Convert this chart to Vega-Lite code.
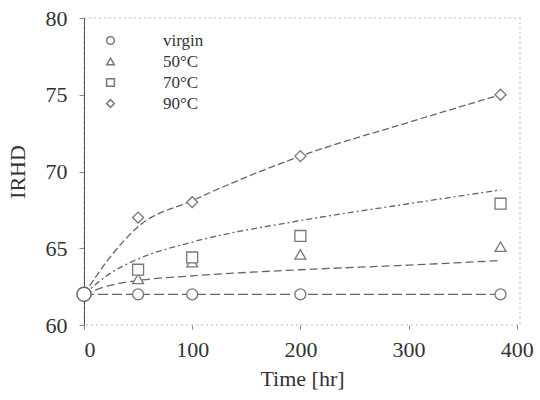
{
  "$schema": "https://vega.github.io/schema/vega-lite/v6.json",
  "autosize": "none",
  "width": 436,
  "height": 307,
  "padding": {"left": 84, "top": 18, "right": 20, "bottom": 75},
  "background": "white",
  "config": {
    "font": "Liberation Serif",
    "view": {"stroke": "#cfcfcf", "strokeWidth": 1.5, "strokeDash": [2, 3]},
    "axis": {"grid": false, "labelFont": "Liberation Serif", "titleFont": "Liberation Serif", "labelColor": "#333", "titleColor": "#333", "domainColor": "#555", "tickColor": "#888", "labelFontSize": 22, "titleFontSize": 22, "titleFontWeight": "normal"}
  },
  "datasets": {
    "obs": [
      {"series": "virgin", "time": 0, "irhd": 62},
      {"series": "virgin", "time": 50, "irhd": 62},
      {"series": "virgin", "time": 100, "irhd": 62},
      {"series": "virgin", "time": 200, "irhd": 62},
      {"series": "virgin", "time": 385, "irhd": 62},
      {"series": "50°C", "time": 50, "irhd": 63.0},
      {"series": "50°C", "time": 100, "irhd": 64.1},
      {"series": "50°C", "time": 200, "irhd": 64.6},
      {"series": "50°C", "time": 385, "irhd": 65.1},
      {"series": "70°C", "time": 50, "irhd": 63.6},
      {"series": "70°C", "time": 100, "irhd": 64.4},
      {"series": "70°C", "time": 200, "irhd": 65.8},
      {"series": "70°C", "time": 385, "irhd": 67.9},
      {"series": "90°C", "time": 50, "irhd": 67.0},
      {"series": "90°C", "time": 100, "irhd": 68.0},
      {"series": "90°C", "time": 200, "irhd": 71.0},
      {"series": "90°C", "time": 385, "irhd": 75.0}
    ],
    "fit": [
      {"curve": "virgin", "time": 0, "irhd": 62},
      {"curve": "virgin", "time": 385, "irhd": 62},
      {"curve": "50°C", "time": 0, "irhd": 62},
      {"curve": "50°C", "time": 25, "irhd": 62.6},
      {"curve": "50°C", "time": 50, "irhd": 62.9},
      {"curve": "50°C", "time": 100, "irhd": 63.2},
      {"curve": "50°C", "time": 200, "irhd": 63.6},
      {"curve": "50°C", "time": 300, "irhd": 63.9},
      {"curve": "50°C", "time": 385, "irhd": 64.2},
      {"curve": "70°C", "time": 0, "irhd": 62},
      {"curve": "70°C", "time": 25, "irhd": 63.4},
      {"curve": "70°C", "time": 50, "irhd": 64.3},
      {"curve": "70°C", "time": 100, "irhd": 65.4},
      {"curve": "70°C", "time": 200, "irhd": 66.8},
      {"curve": "70°C", "time": 300, "irhd": 67.9},
      {"curve": "70°C", "time": 385, "irhd": 68.8},
      {"curve": "90°C", "time": 0, "irhd": 62},
      {"curve": "90°C", "time": 25, "irhd": 64.5},
      {"curve": "90°C", "time": 50, "irhd": 66.4},
      {"curve": "90°C", "time": 100, "irhd": 68.1},
      {"curve": "90°C", "time": 200, "irhd": 71.0},
      {"curve": "90°C", "time": 300, "irhd": 73.2},
      {"curve": "90°C", "time": 385, "irhd": 75.0}
    ],
    "origin": [{"pt": "origin", "time": 0, "irhd": 62}]
  },
  "encoding": {
    "x": {"field": "time", "type": "quantitative", "scale": {"domain": [0, 403], "nice": false}, "axis": {"values": [0, 100, 200, 300, 400], "title": "Time [hr]", "tickSize": 4, "labelPadding": 10, "titlePadding": 8, "domain": false}},
    "y": {"field": "irhd", "type": "quantitative", "scale": {"domain": [60, 80], "nice": false, "zero": false}, "axis": {"values": [60, 65, 70, 75, 80], "title": "IRHD", "tickSize": 5, "labelPadding": 12, "titlePadding": 16}}
  },
  "layer": [
    {
      "data": {"name": "fit"},
      "mark": {"type": "line", "color": "#666", "strokeWidth": 1.3, "interpolate": "monotone"},
      "encoding": {
        "detail": {"field": "curve"},
        "strokeDash": {"field": "curve", "type": "nominal", "legend": null, "scale": {"domain": ["virgin", "50°C", "70°C", "90°C"], "range": [[10, 4], [8, 4], [6, 3, 2, 3], [7, 3]]}}
      }
    },
    {
      "data": {"name": "obs"},
      "mark": {"type": "point", "filled": false, "fill": "white", "fillOpacity": 1, "strokeWidth": 1.3, "size": 120},
      "encoding": {
        "stroke": {"value": "#777"},
        "shape": {"field": "series", "type": "nominal", "sort": ["virgin", "50°C", "70°C", "90°C"], "scale": {"domain": ["virgin", "50°C", "70°C", "90°C"], "range": ["circle", "triangle-up", "square", "diamond"]},
          "legend": {"orient": "none", "legendX": 18, "legendY": 14, "title": null, "labelFont": "Liberation Serif", "labelFontSize": 17, "labelColor": "#333", "symbolSize": 60, "labelOffset": 44, "rowPadding": 3,
            "encode": {"symbols": {"update": {"stroke": {"value": "#999"}, "fill": {"value": "white"}, "strokeWidth": {"value": 1.2}, "opacity": {"value": 1}}}}}}
      }
    },
    {
      "data": {"name": "origin"},
      "mark": {"type": "point", "shape": "circle", "filled": false, "fill": "white", "fillOpacity": 1, "strokeWidth": 1.5, "size": 200},
      "encoding": {
        "stroke": {"value": "#666"}
      }
    }
  ],
  "resolve": {"legend": {"shape": "independent"}}
}
